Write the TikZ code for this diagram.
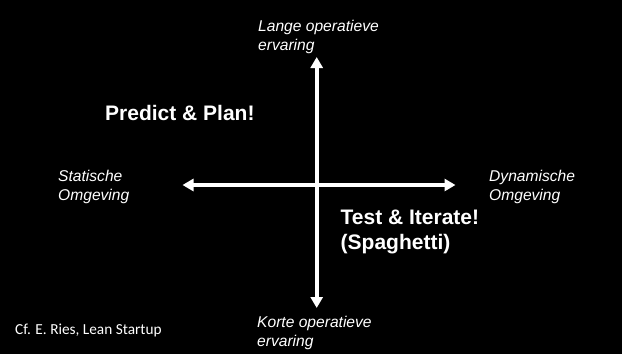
\documentclass[tikz,border=0pt]{standalone}
\usepackage{fontspec}
\setmainfont{Liberation Sans}
\newfontfamily\calibrifont{Carlito}
\usetikzlibrary{arrows.meta}
\begin{document}
\begin{tikzpicture}[x=1pt,y=-1pt,
  axisarrow/.style={white,line width=4pt,{Triangle[width=12pt,length=11pt]}-{Triangle[width=12pt,length=11pt]}},
  axislabel/.style={text=white,inner sep=0pt,anchor=north west,align=left,font=\itshape\fontsize{15.6}{19}\selectfont},
  quadlabel/.style={text=white,inner sep=0pt,anchor=base west,align=left,font=\bfseries\fontsize{21}{25}\selectfont},
  refnote/.style={text=white,inner sep=0pt,anchor=base west,font=\calibrifont\fontsize{15.3}{18}\selectfont}]
\fill[black] (0,0) rectangle (622,354);
\useasboundingbox (0,0) rectangle (622,354);
\coordinate (top) at (316.7,57);
\coordinate (bottom) at (316.7,308);
\coordinate (left) at (182.5,185);
\coordinate (right) at (455.5,185);
\draw[axisarrow] (left) -- (right);
\draw[axisarrow] (top) -- (bottom);
\node[axislabel] (lange) at (258,20.3) {Lange operatieve\\ervaring};
\node[axislabel] (korte) at (257,316) {Korte operatieve\\ervaring};
\node[axislabel] (statisch) at (58,170) {Statische\\Omgeving};
\node[axislabel] (dynamisch) at (489,170.3) {Dynamische\\Omgeving};
\node[quadlabel] (predict) at (105,120.7) {Predict \& Plan!};
\node[quadlabel] (test) at (340.5,249) {Test \& Iterate!\\(Spaghetti)};
\node[refnote] (ries) at (15,334) {Cf. E. Ries, Lean Startup};
\end{tikzpicture}
\end{document}
